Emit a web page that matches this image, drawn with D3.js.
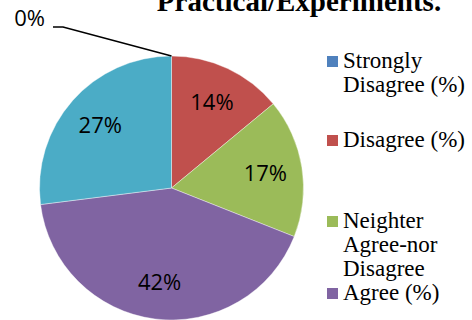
<!DOCTYPE html>
<html>
<head>
<meta charset="utf-8">
<script src="https://cdn.jsdelivr.net/npm/d3@7/dist/d3.min.js"></script>
<style>
  html, body { margin: 0; padding: 0; background: #fff; }
  svg { display: block; }
</style>
</head>
<body>
<svg id="chart" width="472" height="320"></svg>
<script>
// ---- data ----
const categories = ["Strongly Disagree (%)", "Disagree (%)", "Neighter Agree-nor Disagree", "Agree (%)", "Strongly Agree (%)"];
const values = [0, 14, 17, 42, 27];
const colors = ["#4F81BD", "#C0504D", "#9BBB59", "#8064A2", "#4BACC6"];
const legendLines = [["Strongly", "Disagree (%)"], ["Disagree (%)"], ["Neighter", "Agree-nor", "Disagree"], ["Agree (%)"]];
const title = "Practical/Experiments.";

// ---- layout ----
const W = 472, H = 320;
const cx = 171.5, cy = 188, R = 132, labelR = 95;
const svg = d3.select("#chart");

svg.append("text")
  .attr("x", 299).attr("y", 11)
  .attr("text-anchor", "middle")
  .attr("font-family", "'Liberation Serif', 'Times New Roman', serif")
  .attr("font-weight", "bold")
  .attr("font-size", 29)
  .attr("fill", "#000")
  .text(title);

const pie = d3.pie().sort(null).value(d => d)
  .startAngle(0).endAngle(2 * Math.PI);
const arcs = pie(values);
const arc = d3.arc().innerRadius(0).outerRadius(R);
const labelArc = d3.arc().innerRadius(labelR).outerRadius(labelR);

const g = svg.append("g").attr("transform", `translate(${cx},${cy})`);
g.selectAll("path.slice").data(arcs).enter().append("path")
  .attr("class", "slice")
  .attr("d", arc)
  .attr("fill", (d, i) => colors[i])
  .attr("stroke", "#fff")
  .attr("stroke-width", 0.4);

const fmt = d => d3.format(".0f")(d) + "%";
const labelFont = "'Open Sans', 'Liberation Sans', sans-serif";
const labelSize = 22;

arcs.forEach((d, i) => {
  if (d.value > 0) {
    const [x, y] = labelArc.centroid(d);
    g.append("text")
      .attr("x", x).attr("y", y)
      .attr("text-anchor", "middle")
      .attr("dy", "0.36em")
      .attr("font-family", labelFont)
      .attr("font-size", labelSize)
      .attr("fill", "#000")
      .text(fmt(d.value));
  } else {
    // zero-size slice: leader line to outside label
    const a = (d.startAngle + d.endAngle) / 2;
    const p0 = [Math.sin(a) * R, -Math.cos(a) * R];
    const p1 = [p0[0] - 108.5, p0[1] - 29];
    const p2 = [p1[0] - 10, p1[1]];
    g.append("path")
      .attr("d", d3.line()([p0, p1, p2]))
      .attr("fill", "none")
      .attr("stroke", "#000")
      .attr("stroke-width", 1.5);
    g.append("text")
      .attr("x", p2[0] - 8).attr("y", p2[1] - 1)
      .attr("text-anchor", "end")
      .attr("font-family", labelFont)
      .attr("font-size", labelSize)
      .attr("fill", "#000")
      .text(fmt(d.value));
  }
});

// ---- legend ----
const legendBaselines = [68, 147, 228, 300];
const lineH = 24;
const leg = svg.append("g");
legendLines.forEach((lines, i) => {
  const y0 = legendBaselines[i];
  leg.append("rect")
    .attr("x", 327).attr("y", y0 - 12)
    .attr("width", 11).attr("height", 11)
    .attr("fill", colors[i]);
  const t = leg.append("text")
    .attr("font-family", "'Liberation Serif', 'Times New Roman', serif")
    .attr("font-size", 23)
    .attr("fill", "#000");
  lines.forEach((ln, j) => {
    t.append("tspan").attr("x", 343).attr("y", y0 + j * lineH).text(ln);
  });
});
</script>
</body>
</html>
